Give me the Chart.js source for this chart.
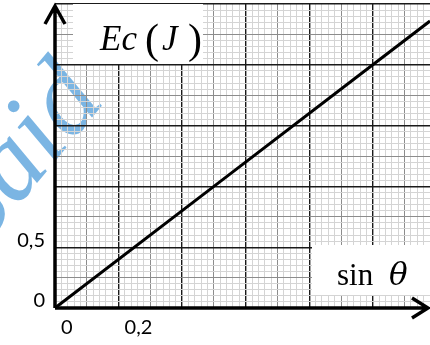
<!DOCTYPE html>
<html>
<head>
<meta charset="utf-8">
<script src="https://cdn.jsdelivr.net/npm/chart.js@4.4.0/dist/chart.umd.min.js"></script>
<style>
  html, body { margin: 0; padding: 0; background: #fff; }
  #wrap { width: 430px; height: 345px; }
</style>
</head>
<body>
<div id="wrap"><canvas id="chart-ec"></canvas></div>
<script>
// Ec = f(sin theta), straight line through the origin
var sinTheta = [0, 0.5, 1, 1.18];
var energy = [0, 1, 2, 2.36];

// graduated axes: labelled ticks only at 0 and first major division
var xTickValues = [0, 0.2];
var xTickTexts = ['0', '0,2'];
var yTickValues = [0, 0.5];
var yTickTexts = ['0', '0,5'];

function tickText(values, texts) {
  return function (value) {
    for (var i = 0; i < values.length; i++) {
      if (Math.abs(value - values[i]) < 1e-6) return texts[i];
    }
    return '';
  };
}

// millimetre paper: thin lines, darker every 5, black every 10
function paperColor(ctx) {
  if (ctx.index % 10 === 0) return '#1a1a1a';
  if (ctx.index % 5 === 0) return '#8c8c8c';
  return '#d4d4d4';
}
function paperWidth(ctx) {
  return ctx.index % 10 === 0 ? 1.4 : 1;
}

// no extra room for the (empty) end labels, the paper runs to the edges
function noEdgePadding(scale) {
  scale.paddingTop = 0;
  scale.paddingBottom = 0;
  scale.paddingLeft = 0;
  scale.paddingRight = 0;
}

var watermark = {
  id: 'watermark',
  beforeDraw: function (chart) {
    var c = chart.ctx;
    c.save();
    c.translate(16, 208);
    c.rotate(-50 * Math.PI / 180);
    c.font = 'italic 110px "Liberation Serif"';
    c.fillStyle = 'rgba(100, 168, 222, 0.85)';
    c.fillText('Said', -c.measureText('S').width, 0);
    c.restore();
  },
};

var axisTitles = {
  id: 'axisTitles',
  afterDatasetsDraw: function (chart) {
    var a = chart.chartArea;
    var c = chart.ctx;
    c.save();
    c.fillStyle = '#fff';
    c.fillRect(a.left + 18, a.top, 130, 60);
    c.fillRect(312, 245, a.right - 312, 50);

    c.fillStyle = '#000';
    c.textBaseline = 'alphabetic';
    c.font = 'italic 35px "Liberation Serif"';
    c.fillText('Ec', 100, 50);
    c.font = '42px "Liberation Serif"';
    c.fillText('(', 145, 53);
    c.fillText(')', 188, 53);
    c.font = 'italic 35px "Liberation Serif"';
    c.fillText('J', 162, 50);

    c.font = '31px "Liberation Serif"';
    c.fillText('sin', 337, 285);
    c.font = 'italic 31px "DejaVu Serif"';
    c.fillText('\u03b8', 389, 285);
    c.restore();
  },
};

var axisArrows = {
  id: 'axisArrows',
  afterDraw: function (chart) {
    var a = chart.chartArea;
    var c = chart.ctx;
    c.save();
    c.strokeStyle = '#000';
    c.lineWidth = 3.5;
    c.lineJoin = 'miter';
    c.beginPath();
    c.moveTo(a.left, a.bottom);
    c.lineTo(a.left, a.top + 2);
    c.moveTo(a.left - 10, a.top + 20);
    c.lineTo(a.left, a.top + 2);
    c.lineTo(a.left + 10, a.top + 20);
    c.stroke();
    c.beginPath();
    c.moveTo(a.left, a.bottom);
    c.lineTo(a.right - 2, a.bottom);
    c.moveTo(a.right - 18, a.bottom - 10);
    c.lineTo(a.right - 2, a.bottom);
    c.lineTo(a.right - 18, a.bottom + 10);
    c.stroke();
    c.restore();
  },
};

var ctx = document.getElementById('chart-ec').getContext('2d');
var chart = new Chart(ctx, {
  type: 'line',
  plugins: [watermark, axisTitles, axisArrows],
  data: {
    datasets: [
      {
        data: sinTheta.map(function (s, i) { return { x: s, y: energy[i] }; }),
        borderColor: '#000',
        borderWidth: 3,
        pointRadius: 0,
        tension: 0,
      },
    ],
  },
  options: {
    responsive: true,
    maintainAspectRatio: false,
    animation: false,
    layout: { padding: { top: 4, right: 0, left: 0, bottom: 0 } },
    plugins: {
      legend: { display: false },
      tooltip: { enabled: false },
    },
    scales: {
      x: {
        type: 'linear',
        min: 0,
        max: 1.18,
        afterFit: function (scale) {
          scale.height = 37;
          noEdgePadding(scale);
        },
        grid: { color: paperColor, lineWidth: paperWidth, drawTicks: false },
        border: { display: false },
        ticks: {
          stepSize: 0.02,
          autoSkip: false,
          maxRotation: 0,
          align: 'start',
          labelOffset: 6,
          padding: 8,
          color: '#000',
          font: { family: 'Lato', size: 20 },
          callback: tickText(xTickValues, xTickTexts),
        },
      },
      y: {
        type: 'linear',
        min: 0,
        max: 2.5,
        afterFit: function (scale) {
          scale.width = 55;
          noEdgePadding(scale);
        },
        grid: { color: paperColor, lineWidth: paperWidth, drawTicks: false },
        border: { display: false },
        ticks: {
          stepSize: 0.05,
          autoSkip: false,
          labelOffset: -7,
          padding: 10,
          color: '#000',
          font: { family: 'Lato', size: 20 },
          callback: tickText(yTickValues, yTickTexts),
        },
      },
    },
  },
});
</script>
</body>
</html>
